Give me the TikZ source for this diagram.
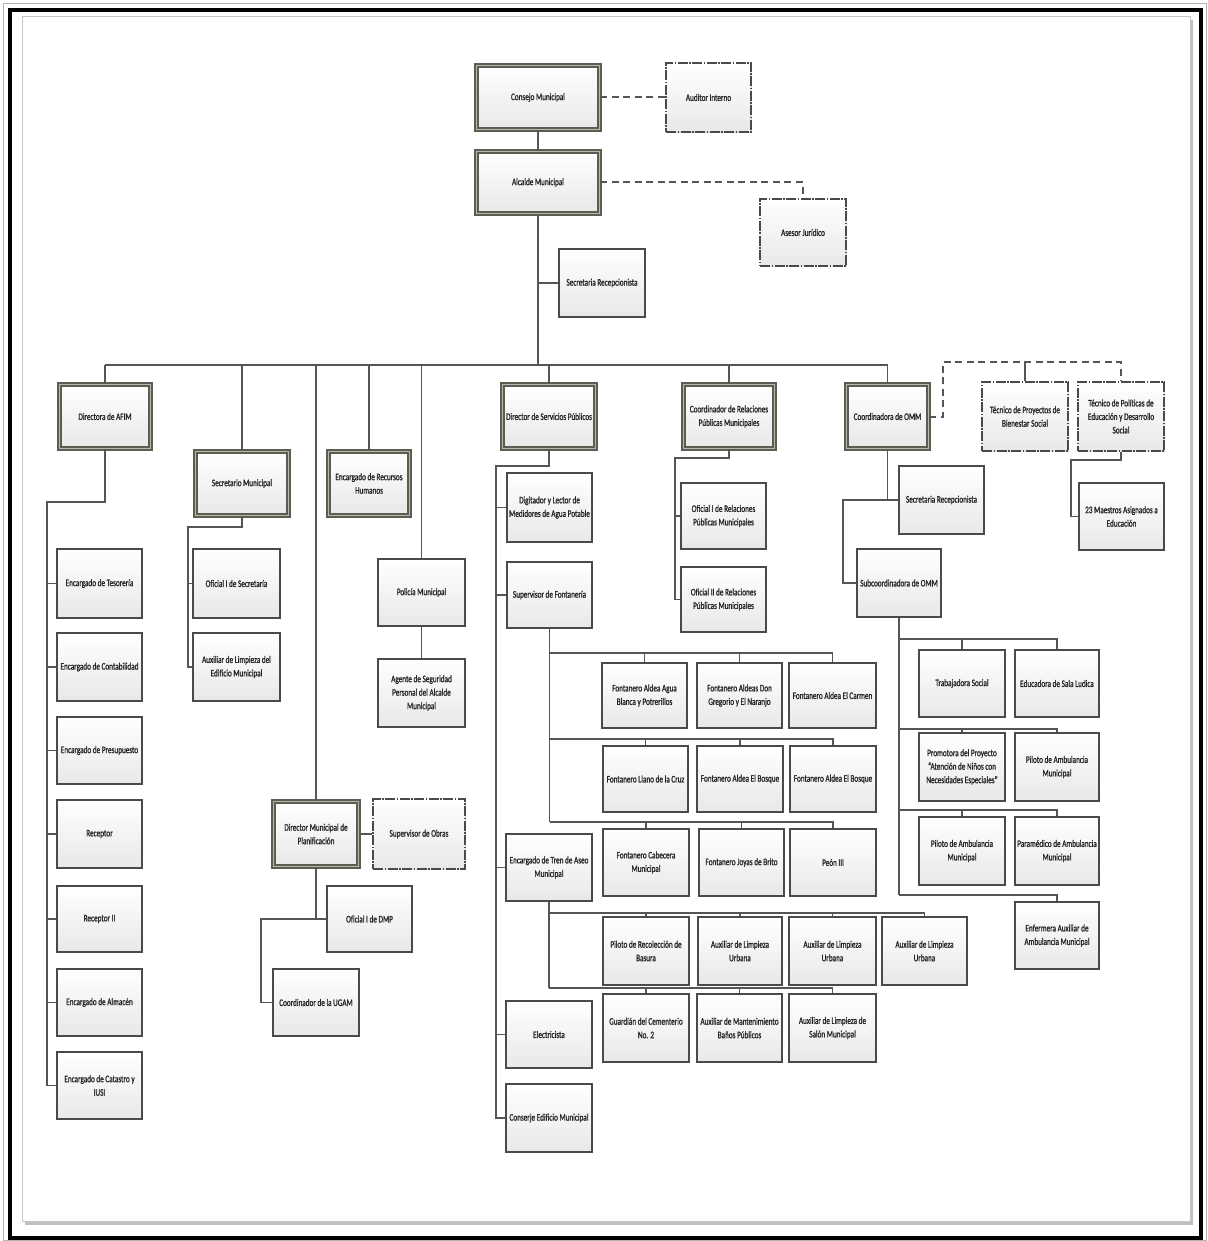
\documentclass[tikz,border=0pt]{standalone}
\usepackage{fontspec}
\setmainfont{Carlito}[FakeStretch=0.72,FakeBold=1.2]
\usetikzlibrary{shadows}
\definecolor{edge}{HTML}{4A4A4A}
\definecolor{conn}{HTML}{555555}
\definecolor{frameD}{HTML}{5C5C50}
\definecolor{frameL}{HTML}{B8B8AC}
\definecolor{txt}{HTML}{262626}
\tikzset{
 base/.style={inner sep=0pt, align=center, font=\fontsize{10}{13.5}\selectfont, text=txt,
   top color=white, bottom color=black!9,
   drop shadow={shadow xshift=1.2pt, shadow yshift=-1.2pt, opacity=0.35}},
 box/.style={base, draw=edge, line width=1.3pt},
 mainbox/.style={base, draw=frameD, double=frameL, line width=1.7pt, double distance=1.6pt},
 dashbox/.style={base, draw=edge, line width=1.3pt, dash pattern=on 10pt off 1.5pt on 1.5pt off 1.5pt},
 link/.style={draw=conn, line width=1.6pt},
 dlink/.style={draw=conn, line width=2pt, dash pattern=on 7pt off 4.5pt},
}
\newcommand\orgbox[7]{\node[#2, minimum width={#5-#3}, minimum height={#6-#4}] (#1) at ({(#3+#5)/2},{(#4+#6)/2}) {#7};}
\newcommand\orgmain[6]{\node[mainbox, minimum width={#4-#2-5}, minimum height={#5-#3-5}] (#1) at ({(#2+#4)/2},{(#3+#5)/2}) {#6};}
\begin{document}
\begin{tikzpicture}[x=1pt,y=-1pt]
\useasboundingbox (0,0) rectangle (1207,1241);
% frame
\draw[gray!60, line width=0.8pt] (3.5,3.5) rectangle (1206,1240);
\draw[black, line width=4.5pt] (10,10) rectangle (1201,1238);
\draw[draw=gray!45, line width=0.8pt, fill=white, drop shadow={shadow xshift=3pt, shadow yshift=-4pt, opacity=0.5}] (22,16) rectangle (1190,1221);

% top
\orgmain{consejo}{474}{63}{602}{132}{Consejo Municipal}
\orgbox{auditor}{dashbox}{666}{63}{751}{132}{Auditor Interno}
\orgmain{alcalde}{474}{149}{602}{216}{Alcalde Municipal}
\orgbox{asesor}{dashbox}{760}{199}{846}{266}{Asesor Jurídico}
\orgbox{secrec}{box}{559}{249}{645}{317}{Secretaria Recepcionista}

% level 2
\orgmain{afim}{57}{382}{153}{451}{Directora de AFIM}
\orgmain{secm}{193}{449}{291}{518}{Secretario Municipal}
\orgmain{rrhh}{326}{449}{412}{518}{Encargado de Recursos\\Humanos}
\orgbox{pol}{box}{378}{559}{465}{626}{Policía Municipal}
\orgbox{agente}{box}{378}{659}{465}{727}{Agente de Seguridad\\Personal del Alcalde\\Municipal}
\orgmain{dsp}{500}{382}{598}{451}{Director de Servicios Públicos}
\orgmain{rrpp}{681}{382}{777}{451}{Coordinador de Relaciones\\Públicas Municipales}
\orgmain{omm}{844}{382}{931}{451}{Coordinadora de OMM}
\orgbox{tproy}{dashbox}{982}{382}{1068}{451}{Técnico de Proyectos de\\Bienestar Social}
\orgbox{tpol}{dashbox}{1078}{382}{1164}{451}{Técnico de Políticas de\\Educación y Desarrollo\\Social}
\orgbox{maestros}{box}{1079}{483}{1164}{550}{23 Maestros Asignados a\\Educación}

% OMM
\orgbox{secomm}{box}{899}{466}{984}{534}{Secretaria Recepcionista}
\orgbox{subc}{box}{857}{549}{941}{617}{Subcoordinadora de OMM}
\orgbox{trab}{box}{919}{650}{1005}{717}{Trabajadora Social}
\orgbox{educ}{box}{1015}{650}{1099}{717}{Educadora de Sala Ludica}
\orgbox{prom}{box}{919}{733}{1005}{801}{Promotora del Proyecto\\``Atención de Niños con\\Necesidades Especiales''}
\orgbox{pilotoA}{box}{1015}{733}{1099}{801}{Piloto de Ambulancia\\Municipal}
\orgbox{pilotoB}{box}{919}{817}{1005}{885}{Piloto de Ambulancia\\Municipal}
\orgbox{param}{box}{1015}{817}{1099}{885}{Paramédico de Ambulancia\\Municipal}
\orgbox{enf}{box}{1015}{902}{1099}{969}{Enfermera Auxiliar de\\Ambulancia Municipal}

% AFIM
\orgbox{tes}{box}{57}{549}{142}{618}{Encargado de Tesorería}
\orgbox{cont}{box}{57}{633}{142}{701}{Encargado de Contabilidad}
\orgbox{pres}{box}{57}{717}{142}{784}{Encargado de Presupuesto}
\orgbox{rec}{box}{57}{800}{142}{868}{Receptor}
\orgbox{recb}{box}{57}{886}{142}{952}{Receptor II}
\orgbox{alm}{box}{57}{969}{142}{1036}{Encargado de Almacén}
\orgbox{cat}{box}{57}{1052}{142}{1119}{Encargado de Catastro y\\IUSI}

% Secretario
\orgbox{ofsec}{box}{193}{549}{280}{618}{Oficial I de Secretaría}
\orgbox{auxed}{box}{193}{633}{280}{701}{Auxiliar de Limpieza del\\Edificio Municipal}

% Planificacion
\orgmain{planif}{271}{799}{361}{869}{Director Municipal de\\Planificación}
\orgbox{supob}{dashbox}{373}{799}{465}{869}{Supervisor de Obras}
\orgbox{ofdmp}{box}{327}{886}{412}{952}{Oficial I de DMP}
\orgbox{ugam}{box}{273}{969}{359}{1036}{Coordinador de la UGAM}

% Servicios
\orgbox{dig}{box}{507}{473}{592}{542}{Digitador y Lector de\\Medidores de Agua Potable}
\orgbox{supf}{box}{507}{562}{592}{628}{Supervisor de Fontanería}
\orgbox{tren}{box}{506}{834}{592}{901}{Encargado de Tren de Aseo\\Municipal}
\orgbox{elec}{box}{506}{1001}{592}{1068}{Electricista}
\orgbox{cons}{box}{506}{1084}{592}{1152}{Conserje Edificio Municipal}

\orgbox{fa}{box}{602}{663}{687}{728}{Fontanero Aldea Agua\\Blanca y Potrerillos}
\orgbox{fb}{box}{697}{663}{782}{728}{Fontanero Aldeas Don\\Gregorio y El Naranjo}
\orgbox{fc}{box}{789}{663}{876}{728}{Fontanero Aldea El Carmen}
\orgbox{fd}{box}{603}{746}{688}{812}{Fontanero Llano de la Cruz}
\orgbox{fe}{box}{697}{746}{783}{812}{Fontanero Aldea El Bosque}
\orgbox{ff}{box}{790}{746}{876}{812}{Fontanero Aldea El Bosque}
\orgbox{fg}{box}{603}{829}{689}{896}{Fontanero Cabecera\\Municipal}
\orgbox{fh}{box}{699}{829}{784}{896}{Fontanero Joyas de Brito}
\orgbox{fi}{box}{790}{829}{876}{896}{Peón III}

\orgbox{aa}{box}{603}{917}{689}{985}{Piloto de Recolección de\\Basura}
\orgbox{ab}{box}{698}{917}{782}{985}{Auxiliar de Limpieza\\Urbana}
\orgbox{ac}{box}{789}{917}{876}{985}{Auxiliar de Limpieza\\Urbana}
\orgbox{ad}{box}{882}{917}{967}{985}{Auxiliar de Limpieza\\Urbana}
\orgbox{ae}{box}{603}{994}{689}{1062}{Guardián del Cementerio\\No. 2}
\orgbox{af}{box}{697}{994}{782}{1062}{Auxiliar de Mantenimiento\\Baños Públicos}
\orgbox{ag}{box}{789}{994}{876}{1062}{Auxiliar de Limpieza de\\Salón Municipal}

% RRPP
\orgbox{ora}{box}{681}{483}{766}{549}{Oficial I de Relaciones\\Públicas Municipales}
\orgbox{orb}{box}{681}{567}{766}{632}{Oficial II de Relaciones\\Públicas Municipales}

% ---------- connectors ----------
\coordinate (busL) at (105,365);
\coordinate (busR) at (887.5,365);
\draw[link] (consejo) -- (alcalde);
\draw[link] (alcalde.south) -- (alcalde.south |- busL);
\draw[link] (busL) -- (busR);
\draw[link] (secrec.west) -- (secrec.west -| alcalde.south);
\foreach \nn in {afim,secm,rrhh,pol,planif,dsp,rrpp,omm}
  \draw[link] (\nn.north) -- (\nn.north |- busL);

\draw[dlink] (consejo.east) -- (auditor.west);
\draw[dlink] (alcalde.east) -| (asesor.north);
\coordinate (tA) at (943,362);
\coordinate (tB) at (1121,362);
\draw[dlink] (omm.east) -| (tA) -- (tB) -- (tpol.north);
\draw[link] (tproy.north) -- (tproy.north |- tA);
\coordinate (mA) at (1071,460);
\draw[link] (tpol.south) |- (mA) |- (maestros.west);

% OMM
\coordinate (oA) at (843,500);
\draw[link] (omm.south) |- (secomm.west);
\draw[link] (secomm.west -| omm.south) -- (oA) |- (subc.west);
\coordinate (sbA) at (899,639);
\coordinate (sbB) at (899,729);
\coordinate (sbC) at (899,810);
\coordinate (sbD) at (899,895);
\draw[link] (subc.south) -- (sbD);
\draw[link] (sbA) -| (educ.north);
\draw[link] (trab.north) -- (trab.north |- sbA);
\draw[link] (sbB) -| (pilotoA.north);
\draw[link] (prom.north) -- (prom.north |- sbB);
\draw[link] (sbC) -| (param.north);
\draw[link] (pilotoB.north) -- (pilotoB.north |- sbC);
\draw[link] (sbD) -| (enf.north);

% AFIM
\coordinate (aZ) at (47,502);
\draw[link] (afim.south) |- (aZ) |- (cat.west);
\foreach \nn in {tes,cont,pres,rec,recb,alm}
  \draw[link] (\nn.west) -- (\nn.west -| aZ);

% Secretario
\coordinate (sZ) at (188,527);
\draw[link] (secm.south) |- (sZ) |- (auxed.west);
\draw[link] (ofsec.west) -- (ofsec.west -| sZ);

% Policia
\draw[link] (pol) -- (agente);

% Planificacion
\draw[link] (planif.east) -- (supob.west);
\coordinate (pZ) at (261,919);
\draw[link] (planif.south) |- (ofdmp.west);
\draw[link] (ofdmp.west -| planif.south) -- (pZ) |- (ugam.west);

% Servicios
\coordinate (dZ) at (496,466);
\draw[link] (dsp.south) |- (dZ) |- (cons.west);
\foreach \nn in {dig,supf,tren,elec}
  \draw[link] (\nn.west) -- (\nn.west -| dZ);

\coordinate (fbA) at (549.5,653);
\coordinate (fbB) at (549.5,739);
\coordinate (fbC) at (549.5,822);
\draw[link] (supf.south) -- (fbC);
\draw[link] (fbA) -| (fc.north);
\draw[link] (fbB) -| (ff.north);
\draw[link] (fbC) -| (fi.north);
\foreach \nn in {fa,fb} \draw[link] (\nn.north) -- (\nn.north |- fbA);
\foreach \nn in {fd,fe} \draw[link] (\nn.north) -- (\nn.north |- fbB);
\foreach \nn in {fg,fh} \draw[link] (\nn.north) -- (\nn.north |- fbC);

\coordinate (abA) at (549,913);
\coordinate (abB) at (549,988);
\draw[link] (tren.south) -- (abB);
\draw[link] (abA) -| (ad.north);
\draw[link] (abB) -| (ag.north);
\foreach \nn in {aa,ab,ac} \draw[link] (\nn.north) -- (\nn.north |- abA);
\foreach \nn in {ae,af} \draw[link] (\nn.north) -- (\nn.north |- abB);

% RRPP
\coordinate (rZ) at (675,458);
\draw[link] (rrpp.south) |- (rZ) |- (orb.west);
\draw[link] (ora.west) -- (ora.west -| rZ);
\end{tikzpicture}
\end{document}
